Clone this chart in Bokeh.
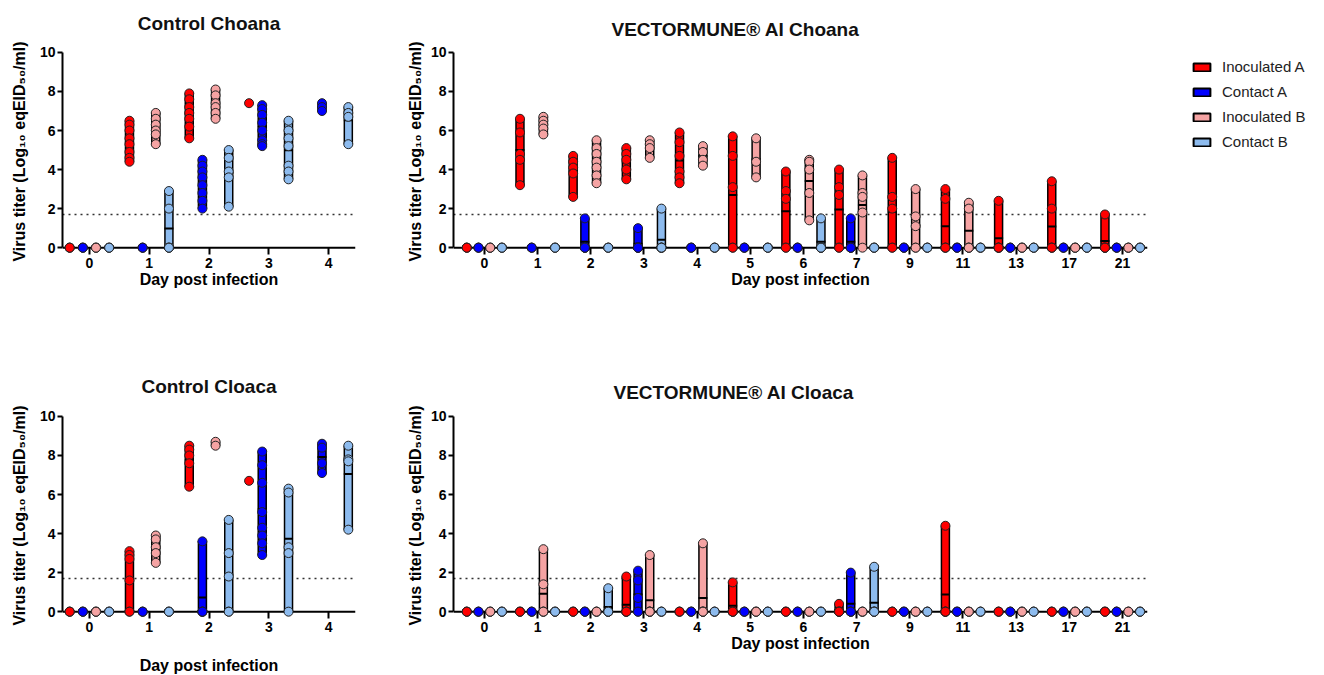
import numpy as np
from bokeh.plotting import figure
from bokeh.layouts import row, column
from bokeh.models import Range1d, FixedTicker, Span, Legend, LegendItem
from bokeh.embed import file_html
from bokeh.resources import INLINE

# ---------------- data ----------------
ctrl_days = ["0", "1", "2", "3", "4"]
vec_days = ["0", "1", "2", "3", "4", "5", "6", "7", "9", "11", "13", "17", "21"]
group_names = ["Inoculated A", "Contact A", "Inoculated B", "Contact B"]
group_colors = ["#FF0000", "#0000FF", "#F5A3A3", "#8DBBEE"]
threshold = 1.7

# Control Choana (per day, individual titers)
cch_inoc_a = [[0, 0, 0], [6.5, 6.3, 6.0, 5.6, 5.3, 4.9, 4.6, 4.4], [7.9, 7.6, 7.2, 6.9, 6.6, 6.2, 5.6], [7.4], []]
cch_cont_a = [[0, 0, 0], [0, 0, 0], [4.5, 4.2, 3.9, 3.6, 3.2, 2.8, 2.4, 2.0], [7.3, 7.1, 6.8, 6.4, 6.0, 5.5, 5.3, 5.2], [7.4, 7.2, 7.0]]
cch_inoc_b = [[0, 0, 0], [6.9, 6.6, 6.3, 6.0, 5.8, 5.3], [8.1, 7.8, 7.4, 7.2, 6.9, 6.6], [], []]
cch_cont_b = [[0, 0, 0], [2.9, 2.0, 0, 0, 0], [5.0, 4.6, 3.9, 3.6, 2.1], [6.5, 6.0, 5.6, 5.2, 4.2, 3.9, 3.5], [7.2, 6.9, 6.7, 5.3]]

# VECTORMUNE AI Choana
vch_inoc_a = [[0, 0, 0], [6.6, 5.9, 4.8, 4.5, 3.2], [4.7, 4.4, 4.1, 3.8, 2.6], [5.1, 4.8, 4.5, 4.0, 3.5],
              [5.9, 5.4, 4.7, 3.9, 3.6, 3.3], [5.7, 4.7, 3.1, 0, 0], [3.9, 2.9, 2.5, 0, 0], [4.0, 3.1, 2.7, 0, 0],
              [4.6, 2.6, 2.0, 0, 0], [3.0, 2.5, 0, 0, 0], [2.4, 0, 0, 0, 0], [3.4, 2.0, 0, 0, 0], [1.7, 0, 0, 0, 0]]
vch_cont_a = [[0, 0, 0], [0, 0, 0], [1.5, 0, 0, 0, 0], [1.0, 0, 0, 0, 0], [0, 0, 0], [0, 0, 0], [0, 0, 0],
              [1.5, 0, 0, 0, 0], [0, 0, 0], [0, 0, 0], [0, 0, 0], [0, 0, 0], [0, 0, 0]]
vch_inoc_b = [[0, 0, 0], [6.7, 6.5, 6.3, 6.1, 5.8], [5.5, 5.1, 4.8, 4.4, 4.1, 3.7, 3.3], [5.5, 5.3, 5.1, 4.6],
              [5.2, 4.9, 4.5, 4.2], [5.6, 4.4, 3.6], [4.5, 4.4, 4.0, 2.8, 1.4], [3.7, 2.8, 2.6, 1.8, 0],
              [3.0, 1.6, 1.1, 0, 0], [2.3, 2.0, 0, 0, 0], [0, 0, 0], [0, 0, 0], [0, 0, 0]]
vch_cont_b = [[0, 0, 0], [0, 0, 0], [0, 0, 0], [2.0, 0, 0, 0, 0], [0, 0, 0], [0, 0, 0], [1.5, 0, 0, 0, 0],
              [0, 0, 0], [0, 0, 0], [0, 0, 0], [0, 0, 0], [0, 0, 0], [0, 0, 0]]

# Control Cloaca
ccl_inoc_a = [[0, 0, 0], [3.1, 2.9, 2.7, 1.6, 0, 0], [8.5, 8.3, 8.0, 7.6, 6.4], [6.7], []]
ccl_cont_a = [[0, 0, 0], [0, 0, 0], [3.6, 0, 0, 0, 0], [8.2, 7.5, 6.6, 5.1, 4.3, 3.9, 3.5, 2.9], [8.6, 8.4, 7.6, 7.1]]
ccl_inoc_b = [[0, 0, 0], [3.9, 3.7, 3.3, 3.0, 2.5], [8.7, 8.5], [], []]
ccl_cont_b = [[0, 0, 0], [0, 0, 0], [4.7, 3.0, 1.8, 0, 0], [6.3, 6.1, 3.3, 3.0, 0], [8.5, 7.8, 7.7, 4.2]]

# VECTORMUNE AI Cloaca
vcl_inoc_a = [[0, 0, 0], [0, 0, 0], [0, 0, 0], [1.8, 0, 0, 0, 0], [0, 0, 0], [1.5, 0, 0, 0, 0], [0, 0, 0],
              [0.4, 0, 0, 0, 0], [0, 0, 0], [4.4, 0, 0, 0, 0], [0, 0, 0], [0, 0, 0], [0, 0, 0]]
vcl_cont_a = [[0, 0, 0], [0, 0, 0], [0, 0, 0], [2.1, 1.6, 0.7, 0, 0], [0, 0, 0], [0, 0, 0], [0, 0, 0],
              [2.0, 0, 0, 0, 0], [0, 0, 0], [0, 0, 0], [0, 0, 0], [0, 0, 0], [0, 0, 0]]
vcl_inoc_b = [[0, 0, 0], [3.2, 1.4, 0, 0, 0], [0, 0, 0], [2.9, 0, 0, 0, 0], [3.5, 0, 0, 0, 0], [0, 0, 0],
              [0, 0, 0], [0, 0, 0], [0, 0, 0], [0, 0, 0], [0, 0, 0], [0, 0, 0], [0, 0, 0]]
vcl_cont_b = [[0, 0, 0], [0, 0, 0], [1.2, 0, 0, 0, 0], [0, 0, 0], [0, 0, 0], [0, 0, 0], [0, 0, 0],
              [2.3, 0, 0, 0, 0], [0, 0, 0], [0, 0, 0], [0, 0, 0], [0, 0, 0], [0, 0, 0]]

# ---------------- styling ----------------
FONT = "Liberation Sans"
OFFSETS = [-0.33, -0.11, 0.11, 0.33]
YLABEL = "Virus titer (Log\u2081\u2080 eqEID\u2085\u2080/ml)"
FRAME_H = 206


def make_panel(title, day_labels, series, fw, bl, br, bt, bb, xr, bar_w,
               t_align, t_offset, t_valign, t_standoff, xl_standoff, yl_standoff):
    p = figure(frame_width=fw, frame_height=FRAME_H,
               min_border_left=bl, min_border_right=br, min_border_top=bt, min_border_bottom=bb,
               x_range=Range1d(*xr), y_range=Range1d(-0.35, 10.2),
               output_backend="svg", toolbar_location=None, title=title)
    p.outline_line_color = None
    p.xgrid.grid_line_color = None
    p.ygrid.grid_line_color = None
    p.background_fill_color = "white"

    p.title.text_font = FONT
    p.title.text_font_size = "19px"
    p.title.text_font_style = "bold"
    p.title.text_color = "#111111"
    p.title.align = t_align
    p.title.offset = t_offset
    p.title.vertical_align = t_valign
    p.title.standoff = t_standoff

    # zero baseline (x axis line) and detection limit
    p.add_layout(Span(location=0, dimension="width", line_color="black", line_width=2, level="underlay"))
    p.add_layout(Span(location=threshold, dimension="width", line_color="#333333",
                      line_width=1.5, line_dash="2 4", level="underlay"))

    for gi, data in enumerate(series):
        color = group_colors[gi]
        bx, btop, bbot, mx, my, px, py = [], [], [], [], [], [], []
        for di, vals in enumerate(data):
            if not vals:
                continue
            x = di + OFFSETS[gi]
            for v in vals:
                px.append(x)
                py.append(v)
            if max(vals) > min(vals):
                bx.append(x)
                btop.append(max(vals))
                bbot.append(min(vals))
                mx.append(x)
                my.append(float(np.mean(vals)))
        p.vbar(x=bx, width=bar_w, top=btop, bottom=bbot, fill_color=color,
               line_color="black", line_width=1.5)
        p.scatter(x=mx, y=my, marker="dash", size=9, line_color="black", line_width=2)
        p.scatter(x=px, y=py, size=9, fill_color=color, line_color="#222222", line_width=1)

    xa = p.xaxis[0]
    xa.ticker = FixedTicker(ticks=list(range(len(day_labels))))
    xa.major_label_overrides = {i: lab for i, lab in enumerate(day_labels)}
    xa.axis_line_color = None
    xa.major_tick_in = 7
    xa.major_tick_out = 0
    xa.major_tick_line_width = 2
    xa.major_tick_line_color = "black"
    xa.minor_tick_line_color = None
    xa.major_label_standoff = 3
    xa.major_label_text_font = FONT
    xa.major_label_text_font_size = "14px"
    xa.major_label_text_font_style = "bold"
    xa.major_label_text_color = "black"
    xa.axis_label = "Day post infection"
    xa.axis_label_standoff = xl_standoff
    xa.axis_label_text_font = FONT
    xa.axis_label_text_font_size = "16px"
    xa.axis_label_text_font_style = "bold"
    xa.axis_label_text_color = "black"

    ya = p.yaxis[0]
    ya.bounds = (0, 10)
    ya.ticker = FixedTicker(ticks=[0, 2, 4, 6, 8, 10])
    ya.axis_line_width = 2
    ya.axis_line_color = "black"
    ya.major_tick_in = 0
    ya.major_tick_out = 5
    ya.major_tick_line_width = 2
    ya.minor_tick_line_color = None
    ya.major_label_standoff = 2
    ya.major_label_text_font = FONT
    ya.major_label_text_font_size = "14px"
    ya.major_label_text_font_style = "bold"
    ya.major_label_text_color = "black"
    ya.axis_label = YLABEL
    ya.axis_label_standoff = yl_standoff
    ya.axis_label_text_font = FONT
    ya.axis_label_text_font_size = "16px"
    ya.axis_label_text_font_style = "bold"
    ya.axis_label_text_color = "black"
    return p


tl = make_panel("Control Choana", ctrl_days, [cch_inoc_a, cch_cont_a, cch_inoc_b, cch_cont_b],
                293, 62, 45, 47, 87, (-0.45, 4.45), 0.134, "center", 0, "top", 25, 0, 9)
tr = make_panel("VECTORMUNE\u00ae AI Choana", vec_days, [vch_inoc_a, vch_cont_a, vch_inoc_b, vch_cont_b],
                694, 53, 13, 47, 87, (-0.58, 12.47), 0.15, "left", 158, "bottom", 17, 0, 4)
bl = make_panel("Control Cloaca", ctrl_days, [ccl_inoc_a, ccl_cont_a, ccl_inoc_b, ccl_cont_b],
                293, 62, 45, 71, 58, (-0.45, 4.45), 0.134, "center", 0, "bottom", 31, 22, 9)
br = make_panel("VECTORMUNE\u00ae AI Cloaca", vec_days, [vcl_inoc_a, vcl_cont_a, vcl_inoc_b, vcl_cont_b],
                694, 53, 13, 71, 58, (-0.58, 12.47), 0.15, "left", 160, "bottom", 19, 0, 4)

# legend panel
lg = figure(frame_width=138, frame_height=FRAME_H, min_border_left=22, min_border_right=0,
            min_border_top=47, min_border_bottom=87, x_range=Range1d(0, 1), y_range=Range1d(0, 1),
            output_backend="svg", toolbar_location=None, x_axis_location=None, y_axis_location=None)
lg.outline_line_color = None
lg.xgrid.grid_line_color = None
lg.ygrid.grid_line_color = None
items = []
nan = float("nan")
for name, color in zip(group_names, group_colors):
    r = lg.vbar(x=[0.5], top=[nan], bottom=[nan], width=0.1, fill_color=color,
                line_color="black", line_width=2)
    items.append(LegendItem(label=name, renderers=[r]))
leg = Legend(items=items, location="top_left", margin=9, padding=0,
             glyph_width=21, glyph_height=10, label_standoff=10, label_height=19, spacing=6,
             label_text_font=FONT, label_text_font_size="15px", label_text_color="#222222",
             border_line_color=None, background_fill_alpha=0)
lg.add_layout(leg)

layout = column(row(tl, tr, lg), row(bl, br))
open("out.html", "w").write(file_html(layout, INLINE))
